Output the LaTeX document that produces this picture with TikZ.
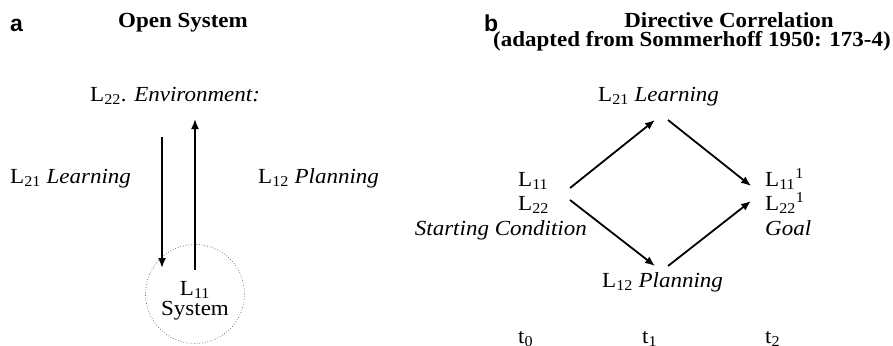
\documentclass[tikz,border=0pt]{standalone}
\usepackage{fontspec}
\setmainfont[FakeStretch=1.07]{Liberation Serif}
\newfontfamily\panelfont{Liberation Sans}
\usetikzlibrary{arrows.meta}
\begin{document}
\begin{tikzpicture}[x=1pt,y=-1pt,
  txt/.style={inner sep=0pt,font=\fontsize{21.5}{25}\selectfont},
  ttl/.style={inner sep=0pt,font=\fontsize{21.5}{25}\selectfont\bfseries},
  panel/.style={inner sep=0pt,font=\fontsize{23}{27}\selectfont\panelfont\bfseries},
  arr/.style={line width=1.8pt,-{Latex[length=10pt,width=8pt]}},
  sys/.style={draw=black!60,dotted,line width=0.7pt}]
\useasboundingbox (0,0) rectangle (893,345);

% ---- panel a: open system ----
\node[panel,anchor=base west] (pa) at (10,32) {a};
\node[ttl,anchor=base] (ta) at (183,28) {Open System};
\node[txt,anchor=base west] (env) at (90,101) {L\textsubscript{22}. \textit{Environment:}};
\node[txt,anchor=base west] (learnA) at (10,183) {L\textsubscript{21} \textit{Learning}};
\node[txt,anchor=base west] (planA) at (258,183) {L\textsubscript{12} \textit{Planning}};
\node[sys,circle,minimum size=99pt,inner sep=0pt] (circ) at (195,294) {};
\node[txt,anchor=base] (l11a) at (195,295) {L\textsubscript{11}};
\node[txt,anchor=base] (sysA) at (195,315) {System};

\coordinate (dTop) at (162,137);
\coordinate (dBot) at (162,268);
\coordinate (uBot) at (195,270);
\coordinate (uTop) at (195,119);
\draw[arr] (dTop) -- (dBot);
\draw[arr] (uBot) -- (uTop);

% ---- panel b: directive correlation ----
\node[panel,anchor=base west] (pb) at (484,32) {b};
\node[ttl,anchor=base] (tb1) at (729,28) {Directive Correlation};
\node[ttl,anchor=base east] (tb2) at (891,46) {(adapted from Sommerhoff 1950: 173-4)};

\node[txt,anchor=base west] (learnB) at (598,101) {L\textsubscript{21} \textit{Learning}};
\node[txt,anchor=base west] (planB) at (602,287) {L\textsubscript{12} \textit{Planning}};

\node[txt,anchor=base west] (s11) at (518,186) {L\textsubscript{11}};
\node[txt,anchor=base west] (s22) at (518,210) {L\textsubscript{22}};
\node[txt,anchor=base east] (start) at (587,235) {\textit{Starting Condition}};

\node[txt,anchor=base west] (g11) at (765,186) {L\textsubscript{11}\textsuperscript{1}};
\node[txt,anchor=base west] (g22) at (765,210) {L\textsubscript{22}\textsuperscript{1}};
\node[txt,anchor=base west] (goal) at (765,235) {\textit{Goal}};

\node[txt,anchor=base west] (t0) at (518,343) {t\textsubscript{0}};
\node[txt,anchor=base west] (t1) at (642,343) {t\textsubscript{1}};
\node[txt,anchor=base west] (t2) at (765,343) {t\textsubscript{2}};

\coordinate (sUp) at (570,188);
\coordinate (sDn) at (570,200);
\coordinate (lIn) at (655,120);
\coordinate (lOut) at (668,120);
\coordinate (pIn) at (655,266);
\coordinate (pOut) at (668,266);
\coordinate (gUp) at (751,186);
\coordinate (gDn) at (751,201);
\draw[arr] (sUp) -- (lIn);
\draw[arr] (lOut) -- (gUp);
\draw[arr] (sDn) -- (pIn);
\draw[arr] (pOut) -- (gDn);
\end{tikzpicture}
\end{document}
